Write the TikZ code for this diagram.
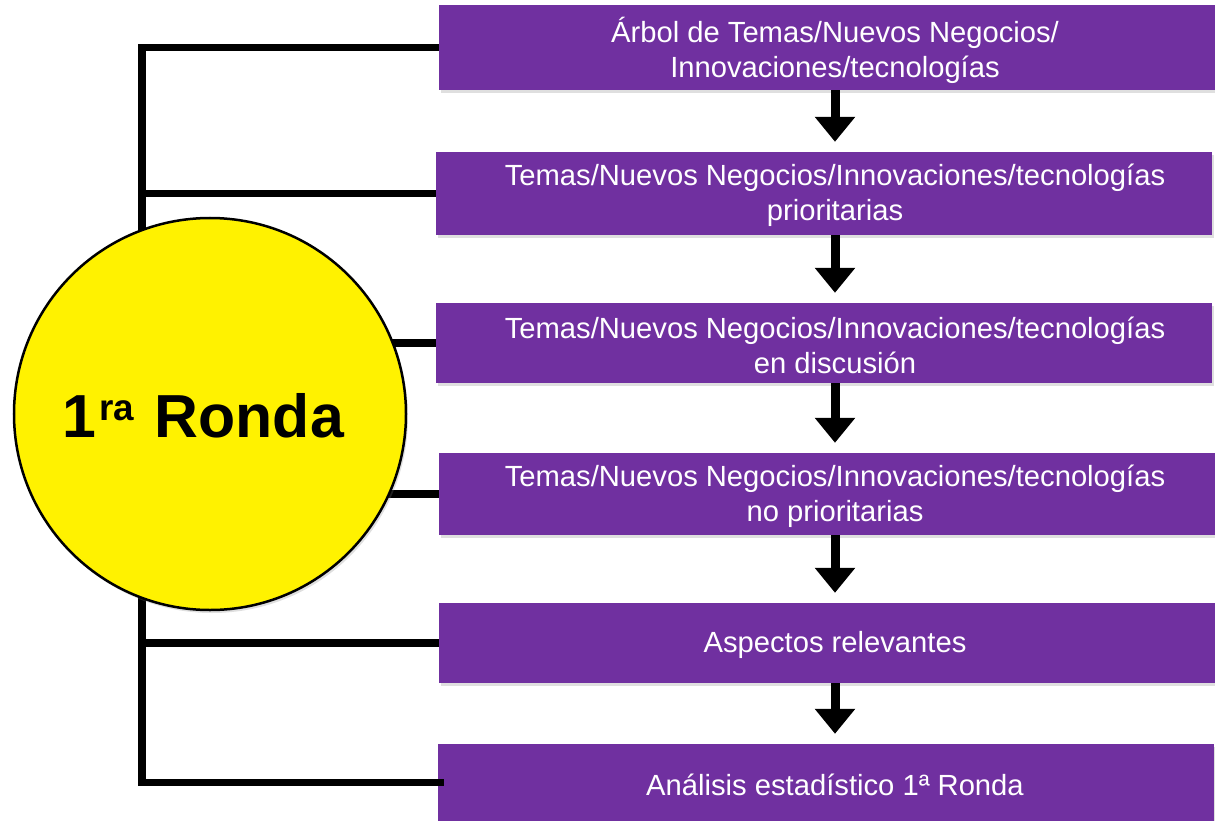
\documentclass[tikz,border=0pt]{standalone}
\usepackage{fontspec}
\setmainfont{Liberation Sans}
\usetikzlibrary{arrows.meta,shadows}

\definecolor{morado}{RGB}{112,48,160}

\begin{document}
\begin{tikzpicture}[x=1bp,y=-1bp]
   \tikzset{caja/.style={draw=none, fill=morado, minimum width=776bp, inner sep=0pt,
                         drop shadow={shadow xshift=2bp, shadow yshift=-3bp, opacity=0.25}},
            texto/.style={text=white, align=center, inner sep=0pt, font=\fontsize{29.3}{35}\selectfont},
            rama/.style={line width=7.5bp, black, miter limit=10},
            flecha/.style={line width=9bp, -{Triangle[width=39bp,length=25bp]}, shorten >=10bp}}
   \useasboundingbox (0,0) rectangle (1215,821);

   % the six steps
   \node[caja, minimum height=85bp] (arbol)        at (827,47.5)  {};
   \node[caja, minimum height=83bp] (prioritarias) at (824,193.5) {};
   \node[caja, minimum height=80bp] (discusion)    at (824,343)   {};
   \node[caja, minimum height=82bp] (noprior)      at (827,494)   {};
   \node[caja, minimum height=80bp] (aspectos)     at (827,643)   {};
   \node[caja, minimum height=77bp] (analisis)     at (826,782.5) {};
   \coordinate (eje) at (835,0);

   \node[texto] (arbol-t)        at (arbol -| eje)        [yshift=-3bp]   {Árbol de Temas/Nuevos Negocios/\\Innovaciones/tecnologías};
   \node[texto] (prioritarias-t) at (prioritarias -| eje) [yshift=-2bp]   {Temas/Nuevos Negocios/Innovaciones/tecnologías\\prioritarias};
   \node[texto] (discusion-t)    at (discusion -| eje)    [yshift=-2bp]   {Temas/Nuevos Negocios/Innovaciones/tecnologías\\en discusión};
   \node[texto] (noprior-t)      at (noprior -| eje)      [yshift=-2bp]   {Temas/Nuevos Negocios/Innovaciones/tecnologías\\no prioritarias};
   \node[texto] (aspectos-t)     at (aspectos -| eje)     [yshift=-2bp]   {Aspectos relevantes};
   \node[texto] (analisis-t)     at (analisis -| eje)     [yshift=-2.5bp] {Análisis estadístico 1ª Ronda};

   % trunk on the left
   \coordinate (tronco) at (142,0);
   \draw[rama] (arbol.west) -- (arbol.west -| tronco) -- (analisis.west -| tronco) -- ([xshift=6bp]analisis.west);
   \foreach \n in {prioritarias,discusion,noprior,aspectos}
      \draw[rama] (\n.west -| tronco) -- (\n.west);

   % arrows between steps
   \foreach \a/\b in {arbol/prioritarias,prioritarias/discusion,discusion/noprior,noprior/aspectos,aspectos/analisis}
      \draw[flecha] (\a.south -| eje) -- (\b.north -| eje);

   % the round
   \node[circle, draw, line width=2.5bp, fill=yellow, minimum size=392bp, inner sep=0pt,
         drop shadow={shadow xshift=2bp, shadow yshift=-3bp, opacity=0.25},
         label={[font=\bfseries\fontsize{61}{70}\selectfont, xshift=-7bp, yshift=-2bp]center:%
            1\hspace{3bp}\raisebox{0.28em}{\fontsize{37}{40}\selectfont ra}\hspace{4bp} Ronda}] (ronda) at (210,414) {};
\end{tikzpicture}
\end{document}
